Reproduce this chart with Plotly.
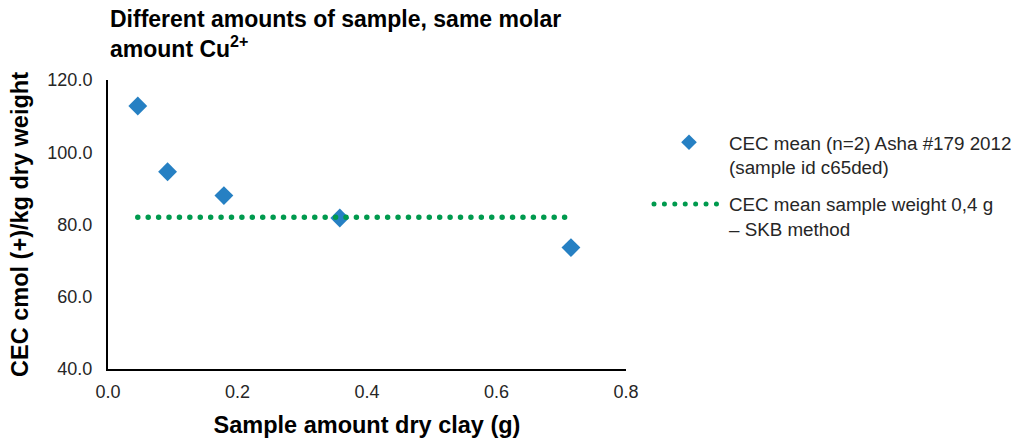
import plotly.graph_objects as go

# Sample mass (g) and measured CEC (cmol(+)/kg dry weight)
sample_g = [0.046, 0.092, 0.179, 0.358, 0.715]
cec_mean = [112.8, 94.6, 88.0, 81.8, 73.6]

# Reference CEC obtained with the standard 0.4 g SKB method
skb_x = [sample_g[0], sample_g[-1]]
skb_y = [82.0, 82.0]

x_ticks = [0.0, 0.2, 0.4, 0.6, 0.8]
y_ticks = [40.0, 60.0, 80.0, 100.0, 120.0]

FONT = "Liberation Sans, Arial, sans-serif"
BLUE = "#2680c3"
GREEN = "#009a4e"

fig = go.Figure()

fig.add_trace(go.Scatter(
    x=sample_g, y=cec_mean, mode="markers",
    name="CEC mean (n=2) Asha #179 2012<br>(sample id c65ded)",
    legendgroup="mean",
    marker=dict(symbol="diamond", size=14.5, color=BLUE),
))

fig.add_trace(go.Scatter(
    x=skb_x, y=skb_y, mode="lines",
    name="CEC mean sample weight 0,4 g<br>– SKB method",
    legendgroup="skb",
    line=dict(color=GREEN, width=5.5, dash="5px,5.3px"),
))

fig.update_layout(
    width=1015, height=441,
    margin=dict(l=108, r=389, t=80, b=72, autoexpand=False),
    paper_bgcolor="white", plot_bgcolor="white",
    font=dict(family=FONT, size=18, color="#262626"),
    annotations=[dict(
        text="<b>Different amounts of sample, same molar<br>amount Cu<sup>2+</sup></b>",
        font=dict(family=FONT, size=23, color="black"),
        x=0, xref="paper", xanchor="left",
        y=1.264, yref="paper", yanchor="top",
        align="left", showarrow=False,
    )],
    xaxis=dict(
        range=[0, 0.8], tickvals=x_ticks, tickformat=".1f",
        showgrid=False, zeroline=False, automargin=False,
        showline=True, linecolor="black", linewidth=2,
        ticks="", ticklabelstandoff=5,
        tickfont=dict(size=18, color="#262626"),
        title=dict(text="<b>Sample amount dry clay (g)</b>",
                   font=dict(size=23.5, color="black"), standoff=16),
    ),
    yaxis=dict(
        range=[40, 120], tickvals=y_ticks, tickformat=".1f",
        showgrid=False, zeroline=False, automargin=False,
        showline=True, linecolor="black", linewidth=2,
        ticks="", ticklabelstandoff=10,
        tickfont=dict(size=18, color="#262626"),
        title=dict(text="<b>CEC cmol (+)/kg dry weight</b>",
                   font=dict(size=23.5, color="black"), standoff=12),
    ),
    legend=dict(
        xref="container", yref="container",
        x=649 / 1015, xanchor="left", y=0.72, yanchor="top",
        font=dict(size=18.8, color="#262626"),
        valign="top", itemsizing="constant", itemwidth=70,
        tracegroupgap=10, bgcolor="rgba(0,0,0,0)",
    ),
    showlegend=True,
)

# Round line caps turn the dash pattern into round dots
post = """
var gd = document.getElementById('{plot_id}');
gd.querySelectorAll('path.js-line').forEach(function(p){
  p.style.strokeLinecap = 'round';
  p.style.strokeDasharray = '0.01px,10.4px';
});
"""

fig.write_html("out.html", post_script=post)
